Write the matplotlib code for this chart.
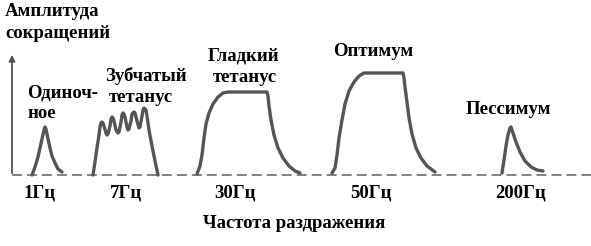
import matplotlib
matplotlib.use('Agg')
from matplotlib import pyplot as plt

# curves (x, y in picture pixels, y grows downward)
single_x = [32, 35, 38, 40, 42, 44, 45, 46, 48, 50, 52, 55, 58, 62]
single_y = [175, 167, 157, 148, 139, 130, 127, 129, 139, 148, 156, 163, 169, 172]

jagged_x = [93, 95, 97, 99, 100, 101, 102, 103, 104, 106, 107, 108, 110, 111,
            112, 113, 114, 116, 118, 119, 121, 122, 123, 124, 125, 127, 128,
            129, 131, 132, 134, 135, 137, 139, 140, 142, 143, 144, 146, 147,
            149, 152, 155, 158]
jagged_y = [175, 162, 148, 135, 127, 123, 122, 123, 126, 133, 135, 134, 126, 119,
            117, 118, 121, 130, 133, 132, 122, 115, 113, 114, 117, 127, 130,
            129, 121, 114, 112, 113, 121, 128, 127, 116, 110, 108, 110, 116,
            130, 146, 161, 175]

smooth_x = [197, 200, 202, 204, 206, 209, 213, 218, 223, 228, 267, 268, 269,
            271, 274, 278, 283, 289, 295, 300]
smooth_y = [174, 166, 155, 138, 124, 113, 104, 97, 93, 92, 92, 96, 106,
            120, 135, 148, 158, 166, 171, 173]

optimum_x = [332, 335, 337, 339, 342, 345, 349, 354, 359, 364, 403, 404, 405,
             407, 409, 412, 416, 421, 427, 435]
optimum_y = [173, 168, 155, 138, 120, 104, 91, 82, 76, 73, 73, 78, 87,
             102, 118, 134, 148, 158, 166, 172]

pessimum_x = [502, 504, 506, 508, 510, 511, 513, 516, 520, 525, 531, 537, 543]
pessimum_y = [173, 160, 146, 135, 128, 127, 133, 142, 152, 161, 167, 170, 171]

freq_labels = ['1Гц', '7Гц', '30Гц', '50Гц', '200Гц']
freq_pos = [40, 126, 235, 371, 521]

curve_color = '#555555'
font = dict(family='Liberation Serif', weight='bold', fontsize=13.5, color='black')

fig = plt.figure(figsize=(5.91, 2.46), dpi=100)
ax = fig.add_axes([0, 0, 1, 1])
ax.set_xlim(0, 591)
ax.set_ylim(246, 0)
ax.axis('off')

# baseline and vertical axis
ax.plot([12, 591], [175, 175], color='#777777', lw=1.3, dashes=(5.5, 2.8))
ax.annotate('', xy=(12, 52), xytext=(12, 176),
            arrowprops=dict(arrowstyle='-|>', color='#555555', lw=1.3,
                            mutation_scale=9))

for xs, ys in [(single_x, single_y), (jagged_x, jagged_y), (smooth_x, smooth_y),
               (optimum_x, optimum_y), (pessimum_x, pessimum_y)]:
    ax.plot(xs, ys, color=curve_color, lw=2.4, solid_joinstyle='round',
            solid_capstyle='round')

ax.text(5, 12, 'Амплитуда', ha='left', va='center', **font)
ax.text(5, 33, 'сокращений', ha='left', va='center', **font)
ax.text(27, 93, 'Одиноч-', ha='left', va='center', **font)
ax.text(27, 114, 'ное', ha='left', va='center', **font)
ax.text(105, 76, 'Зубчатый', ha='left', va='center', **font)
ax.text(109, 97, 'тетанус', ha='left', va='center', **font)
ax.text(244, 56, 'Гладкий', ha='center', va='center', **font)
ax.text(245, 77, 'тетанус', ha='center', va='center', **font)
ax.text(373, 52, 'Оптимум', ha='center', va='center', **font)
ax.text(508, 110, 'Пессимум', ha='center', va='center', **font)

for lab, x in zip(freq_labels, freq_pos):
    ax.text(x, 193, lab, ha='center', va='center', **font)

ax.text(294, 223, 'Частота раздражения', ha='center', va='center', **font)

plt.savefig('out.png', dpi=100)
